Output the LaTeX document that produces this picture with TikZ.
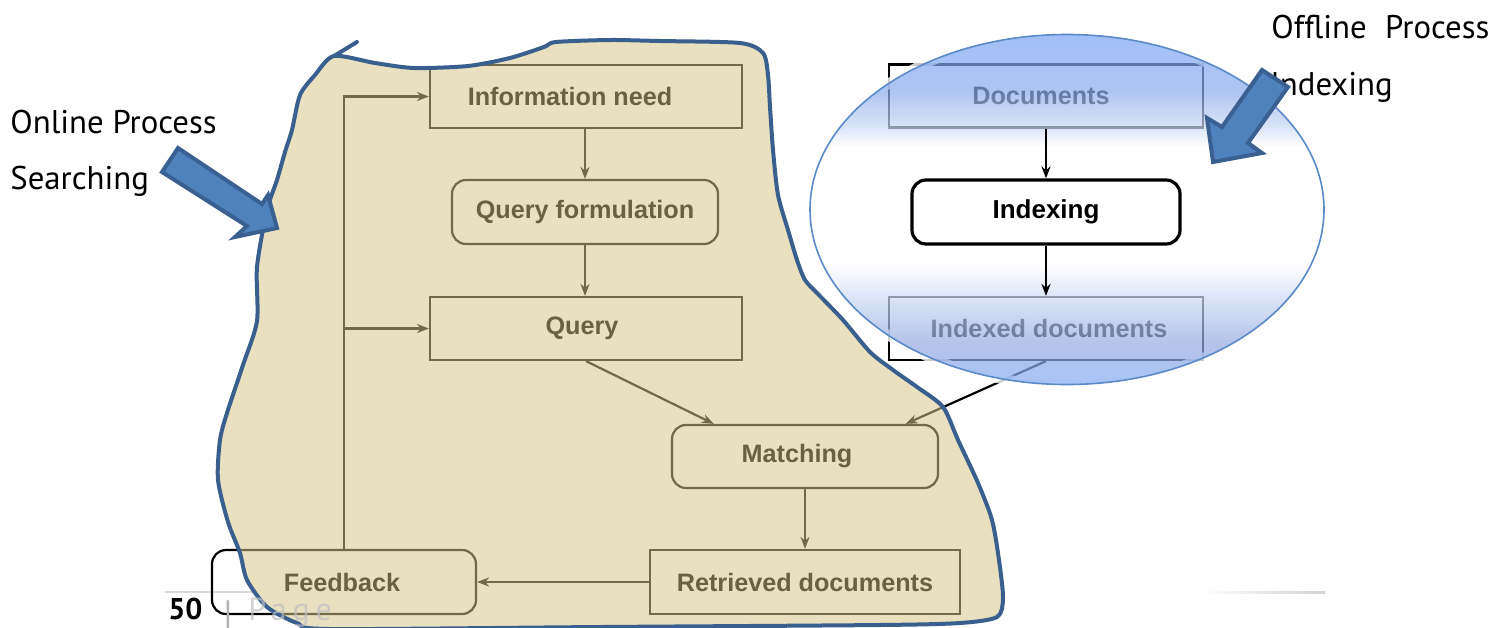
\documentclass[tikz,border=0pt]{standalone}
\usepackage{fontspec}
\setmainfont{Liberation Sans}
\newfontfamily\lblfont{PT Sans}
\usetikzlibrary{arrows.meta,shapes.geometric,calc}

\definecolor{blobfill}{RGB}{232,224,191}
\definecolor{figline}{RGB}{112,106,72}
\definecolor{figtext}{RGB}{104,98,64}
\definecolor{blobedge}{RGB}{58,95,143}
\definecolor{arrfill}{RGB}{79,129,189}
\definecolor{arredge}{RGB}{58,96,145}
\definecolor{lensT}{RGB}{122,166,246}
\definecolor{lensT2}{RGB}{140,172,236}
\definecolor{lensT3}{RGB}{200,215,245}
\definecolor{lensM}{RGB}{150,170,224}
\definecolor{lensB}{RGB}{131,171,242}
\definecolor{lensrim}{RGB}{90,138,200}

\pgfdeclareverticalshading{lens}{100bp}{color(0bp)=(lensB); color(25bp)=(lensB); color(31bp)=(lensM); color(37bp)=(lensT3); color(42bp)=(white); color(59bp)=(white); color(62bp)=(lensT3); color(67bp)=(lensT2); color(75bp)=(lensT); color(100bp)=(lensT)}

\tikzset{
  box/.style={draw, line width=1.1pt, inner sep=0pt, font=\fontsize{12.6}{15}\selectfont\bfseries},
  rbox/.style={box, rounded corners=7pt},
  flow/.style={line width=1.1pt, -{Stealth[length=6pt,width=4.5pt]}},
  lbl/.style={anchor=base west, inner sep=0pt, font=\lblfont\fontsize{16.4}{19}\selectfont},
  bluearrow/.style={fill=arrfill, draw=arredge, line width=2pt, line join=miter},
}

% outline of the hand-drawn region around the online part
\def\blobpath{plot[smooth cycle, tension=0.45] coordinates {
  (334,56) (375,63) (414,68) (468,66) (510,58) (544,47) (556,42) (610,40)
  (659,41) (740,43) (763,53) (768,75) (770,107) (773,150) (778,195) (788,230)
  (797,260) (805,280) (818,294) (843,320) (870,352) (893,370) (917,387)
  (943,407) (958,440) (978,483) (992,520) (999,560) (1003,598) (997,617)
  (960,623) (880,625) (600,627) (330,629) (297,623) (267,607) (247,580)
  (240,553) (228,522) (218,480) (220,440) (227,413) (243,365) (257,321)
  (257,267) (267,210) (277,180) (285,152) (292,130) (300,95) (315,75)}}

\begin{document}
\begin{tikzpicture}[x=0.5pt, y=-0.5pt]
\clip (0,0) rectangle (1510,627);
\fill[white] (0,0) rectangle (1510,627);

% page footer rules
\draw[gray!30, line width=0.8pt] (165,592) -- (300,592);
\shade[left color=white, right color=gray!35] (1200,591) rectangle (1325,593.5);

% offline documents (outside the region)
\node[box, black, minimum width=157pt, minimum height=31.5pt] (docs) at (1046,96) {Documents\kern5pt};
\node[box, black, minimum width=157pt, minimum height=31.5pt] (idxd) at (1046,328.5) {\kern3pt Indexed documents};

% region fill
\fill[blobfill] \blobpath;

% online process, inside the region
\begin{scope}
  \clip \blobpath;
  \begin{scope}[every node/.append style={draw=figline, text=figtext}]
  \node[box, minimum width=156pt, minimum height=31.5pt] (info) at (586,96.5) {Information need\kern16pt};
  \node[rbox, minimum width=133pt, minimum height=32pt] (qf) at (585,212) {Query formulation};
  \node[box, minimum width=156pt, minimum height=31.5pt] (query) at (586,328.5) {Query\kern4pt};
  \node[rbox, minimum width=133pt, minimum height=31.5pt] (match) at (805,456.5) {Matching\kern8pt};
  \node[box, minimum width=155pt, minimum height=32pt] (retr) at (805,582) {Retrieved documents};
  \node[rbox, minimum width=132pt, minimum height=32pt] (fb) at (344,582) {Feedback\kern2pt};
  \end{scope}
  \coordinate (mQ) at ($(match.north west)!0.16!(match.north east)$);
  \coordinate (mI) at ($(match.north west)!0.875!(match.north east)$);
  \begin{scope}[figline]
    \draw[flow] (qf.north |- info.south) -- (qf.north);
    \draw[flow] (qf.south) -- (qf.south |- query.north);
    \draw[flow] (query.south) -- (mQ);
    \draw[flow] (idxd.south) -- (mI);
    \draw[flow] (match.south) -- (match.south |- retr.north);
    \draw[flow] (retr.west) -- (fb.east);
    \draw[flow] (fb.north) |- (info.west);
    \draw[flow] (fb.north |- query.west) -- (query.west);
  \end{scope}
\end{scope}

% parts of the figure lying outside the region
\begin{scope}[even odd rule]
  \clip \blobpath (-10,-10) rectangle (1520,640);
  \draw[line width=1.1pt] (idxd.south) -- (mI);
  \node[rbox, black, minimum width=132pt, minimum height=32pt] (fbrim) at (fb) {};
\end{scope}

% region outline
\draw[blobedge, line width=2pt, line join=round] \blobpath;
\draw[blobedge, line width=2pt, line cap=round] (334,56) -- (357,42);

% page number
\node[anchor=base west, inner sep=0pt, font=\lblfont\bfseries\fontsize{15}{17}\selectfont] (pnum) at (168,619) {50};
\node[anchor=base, inner sep=0pt, text=gray!60, font=\fontsize{15}{17}\selectfont] (pbar) at (228,622) {|};
\node[anchor=base west, inner sep=0pt, text=gray!50, opacity=0.7, font=\lblfont\fontsize{16}{18}\selectfont\addfontfeature{LetterSpace=18}] (pword) at (248,620) {Page};

% lens over the offline part
\draw[white, line width=5pt, opacity=0.8] (1067,209.5) ellipse [x radius=257, y radius=175];
\node[ellipse, minimum width=257pt, minimum height=175pt, inner sep=0pt, shading=lens, fill opacity=0.7, draw=lensrim, draw opacity=1, line width=0.8pt] (lens) at (1067,209.5) {};

\node[rbox, black, line width=1.6pt, minimum width=134pt, minimum height=32pt, font=\fontsize{13}{15}\selectfont\bfseries] (idxg) at (1046,212) {Indexing};
\draw[flow, black] (idxg.north |- docs.south) -- (idxg.north);
\draw[flow, black] (idxg.south) -- (idxg.south |- idxd.north);

% captions
\node[lbl] (onl) at (10,133) {Online Process};
\node[lbl] (srch) at (10,189) {Searching};
\node[lbl] (offl) at (1271,38) {\makebox[109pt][s]{Offline Process}};
\node[lbl] (idxl) at (1270,95) {Indexing};

% pointing arrows
\path[bluearrow] (162,172) -- (178,148) -- (262,204) -- (268,195) -- (277,228) -- (235,237) -- (247,226) -- cycle;
\path[bluearrow] (1262,70) -- (1288,87) -- (1248,143) -- (1262,153) -- (1213,162) -- (1207,118) -- (1222,127) -- cycle;
\end{tikzpicture}
\end{document}
